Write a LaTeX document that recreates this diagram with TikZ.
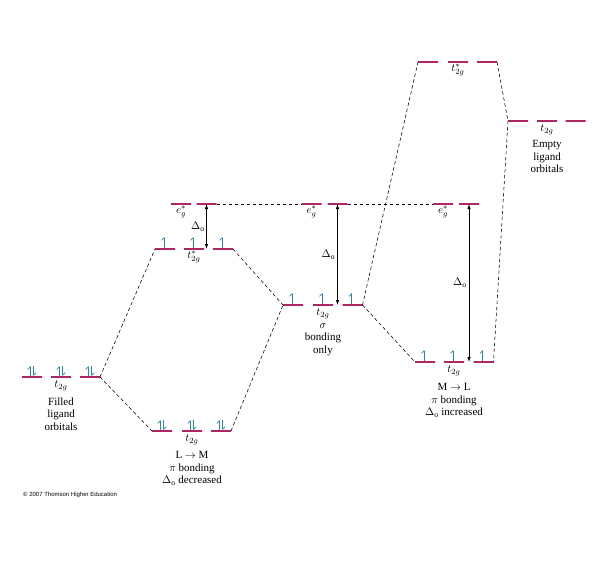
\documentclass[tikz,border=0pt]{standalone}
\usepackage{fontspec}
\setmainfont{Liberation Serif}
\newfontfamily\copyfont{Liberation Sans}
\usetikzlibrary{positioning,arrows.meta}
\definecolor{levelred}{RGB}{176,38,100}
\definecolor{spinblue}{RGB}{40,136,168}

\begin{document}
\begin{tikzpicture}[
    x=1pt, y=-1pt,
    node distance=3pt,
    level/.style={
        draw=levelred,
        line width=1.3pt,
        minimum width=20pt,
        minimum height=0pt,
        inner sep=0pt,
        outer sep=0pt
    },
    spin/.style={draw=spinblue, line width=0.7pt, -{Straight Barb[harpoon,length=2.5pt,width=5pt]}},
    link/.style={dash pattern=on 3.5pt off 2.5pt, line width=0.55pt},
    gap/.style={{Latex[length=5pt,width=3.5pt]}-{Latex[length=5pt,width=3.5pt]}, line width=0.75pt},
    lab/.style={inner sep=1pt, font=\fontsize{11}{12.5}\selectfont},
    note/.style={align=center, inner sep=1pt, font=\fontsize{11}{12.5}\selectfont}
]
\useasboundingbox (0,0) rectangle (600,563);

% Levels
\node[level] (fl1) at (32,377) {};
\node[level] (fl2) at (61,377) {};
\node[level] (fl3) at (90,377) {};

\node[level] (lb1) at (162,431) {};
\node[level] (lb2) at (192,431) {};
\node[level] (lb3) at (221,431) {};
\node[level] (la1) at (165,249) {};
\node[level] (la2) at (194,249) {};
\node[level] (la3) at (223,249) {};
\node[level] (le1) at (181,204) {};
\node[level] (le2) at (206.5,204) {};

\node[level] (ce1) at (311.5,204) {};
\node[level] (ce2) at (337.5,204) {};
\node[level] (cb1) at (293,305) {};
\node[level] (cb2) at (323,305) {};
\node[level] (cb3) at (352.5,305) {};

\node[level] (re1) at (443,204) {};
\node[level] (re2) at (469,204) {};
\node[level] (rb1) at (425,362) {};
\node[level] (rb2) at (454,362) {};
\node[level] (rb3) at (483.5,362) {};
\node[level] (ra1) at (428,62) {};
\node[level] (ra2) at (458,62) {};
\node[level] (ra3) at (487,62) {};

\node[level] (em1) at (518,121) {};
\node[level] (em2) at (547,121) {};
\node[level] (em3) at (575.5,121) {};

% Electrons
\foreach \n in {fl1,fl2,fl3,lb1,lb2,lb3} {
    \draw[spin] ([xshift=-1.8pt,yshift=1pt]\n.center) -- ++(0pt,10pt);
    \draw[spin] ([xshift=1.8pt,yshift=11pt]\n.center) -- ++(0pt,-10pt);
}
\foreach \n in {la1,la2,la3,cb1,cb2,cb3,rb1,rb2,rb3}
    \draw[spin] ([xshift=-1pt,yshift=1pt]\n.center) -- ++(0pt,11pt);

% Labels
\node[lab, below=of fl2] (flt) {$t_{2g}$};
\node[note, below=4pt of flt] (fltxt) {Filled\\ligand\\orbitals};
\node[lab, below=of lb2] (lbt) {$t_{2g}$};
\node[note, below=4pt of lbt] (lbtxt) {L $\rightarrow$ M\\$\pi$ bonding\\$\Delta_{\mathrm{o}}$ decreased};
\node[lab, below=1pt of la2] (lat) {$t_{2g}^{*}$};
\node[lab, below=1pt of le1] (let) {$e_{g}^{*}$};
\node[lab, below=1pt of ce1] (cet) {$e_{g}^{*}$};
\node[lab, below=of cb2] (cbt) {$t_{2g}$};
\node[note, below=2pt of cbt] (cbtxt) {$\sigma$\\bonding\\only};
\node[lab, below=1pt of re1] (ret) {$e_{g}^{*}$};
\node[lab, below=of rb2] (rbt) {$t_{2g}$};
\node[note, below=5pt of rbt] (rbtxt) {M $\rightarrow$ L\\$\pi$ bonding\\$\Delta_{\mathrm{o}}$ increased};
\node[lab, below=1pt of ra2] (rat) {$t_{2g}^{*}$};
\node[lab, below=of em2] (emt) {$t_{2g}$};
\node[note, below=3pt of emt] (emtxt) {Empty\\ligand\\orbitals};

% Correlation lines
\draw[link] (fl3.east) -- (la1.west);
\draw[link] (fl3.east) -- (lb1.west);
\draw[link] (la3.east) -- (cb1.west);
\draw[link] (lb3.east) -- (cb1.west);
\draw[link] (cb3.east) -- (ra1.west);
\draw[link] (cb3.east) -- (rb1.west);
\draw[link] (ra3.east) -- (em1.west);
\draw[link] (em1.west) -- (rb3.east);
\draw[link] (le2.east) -- (ce1.west);
\draw[link] (ce2.east) -- (re1.west);

% Splittings
\draw[gap] (le2.center) -- node[lab, left=0.5pt] {$\Delta_{\mathrm{o}}$} (le2.center |- la3.center);
\draw[gap] (ce2.center) -- node[lab, left=1pt] {$\Delta_{\mathrm{o}}$} (ce2.center |- cb3.center);
\draw[gap] (re2.center) -- node[lab, left=1pt] {$\Delta_{\mathrm{o}}$} (re2.center |- rb3.center);

\node[anchor=west, inner sep=0pt, font=\copyfont\fontsize{6}{7}\selectfont] (copy) at (23,495) {\textcopyright{} 2007 Thomson Higher Education};

\end{tikzpicture}
\end{document}
